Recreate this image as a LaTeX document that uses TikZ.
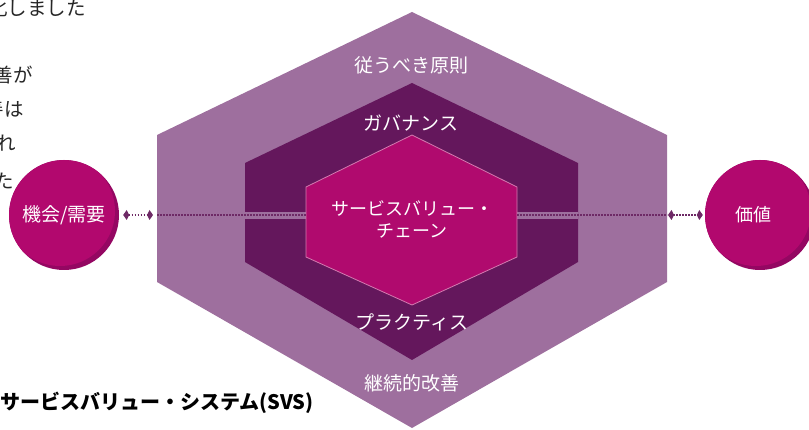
\documentclass[tikz,border=0pt]{standalone}
\usepackage{fontspec}
\setmainfont{Noto Sans CJK JP}
\usetikzlibrary{arrows.meta}
\definecolor{hexouter}{HTML}{9E6F9E}
\definecolor{hexmid}{HTML}{64175C}
\definecolor{hexcore}{HTML}{B00A6E}
\definecolor{corerim}{HTML}{D47AB0}
\definecolor{ballmain}{HTML}{B2086E}
\definecolor{balldark}{HTML}{940762}
\definecolor{linkcol}{HTML}{6E2A66}

\begin{document}
\begin{tikzpicture}[x=1pt,y=-1pt,
  lbl/.style={text=white,font=\fontsize{19}{21}\selectfont,align=center,inner sep=0pt},
  side/.style={anchor=east,text=black!85,font=\fontsize{19.5}{22}\selectfont,inner sep=0pt},
  ball/.style={circle,fill=balldark,minimum size=110pt,inner sep=0pt,
    path picture={\fill[ballmain] ([shift={(-4pt,4pt)}]path picture bounding box.center) circle (55pt);}},
  dots/.style={linkcol,line width=1.2pt,dash pattern=on 1.6pt off 1.4pt},
  tips/.style={dots,{Kite[length=6pt,width=10pt,inset=2.5pt]}-{Kite[length=6pt,width=10pt,inset=2.5pt]}}]
\useasboundingbox (0,0) rectangle (809,430);

% page text cut off at the left
\node[side] (t1) at (86,8) {化しました};
\node[side] (t2) at (33,75) {善が};
\node[side] (t3) at (24,109) {善は};
\node[side] (t4) at (16,143) {れ};
\node[side] (t5) at (14,181) {た};

\fill[hexouter] (412,12) -- (667,135) -- (667,282) -- (412,428) -- (157,282) -- (157,135) -- cycle;
\fill[hexmid] (412,83) -- (578,163) -- (578,262) -- (412,360) -- (245,262) -- (245,163) -- cycle;
\fill[hexouter] (245,212.5) rectangle (578,219);
\filldraw[fill=hexcore,draw=corerim,line width=0.8pt] (412,135) -- (517,187) -- (517,257) -- (412,305) -- (306,257) -- (306,187) -- cycle;

\node[lbl] (prin) at (411,65) {従うべき原則};
\node[lbl] (gov) at (411,123) {ガバナンス};
\node[lbl,font=\fontsize{18}{22}\selectfont] (svc) at (412,219) {サービスバリュー・\\チェーン};
\node[lbl] (prac) at (412,322) {プラクティス};
\node[lbl] (imp) at (412,383) {継続的改善};

\node[ball] (opp) at (64,215) {};
\node[lbl,font=\fontsize{19}{21}\selectfont] at (opp) {機会/需要};
\node[ball] (val) at (760,215) {};
\node[lbl,font=\fontsize{18}{21}\selectfont] at ([xshift=-7pt]val.center) {価値};

\coordinate (hl) at (157,215);
\coordinate (cl) at (306,215);
\coordinate (cr) at (517,215);
\coordinate (hr) at (667,215);
\draw[tips,shorten <=4pt,shorten >=4pt] (opp.east) -- (hl);
\draw[dots] (hl) -- (cl);
\draw[dots] (cr) -- (hr);
\draw[tips,shorten <=1pt,shorten >=2pt] (hr) -- (val.west);

\node[anchor=west,inner sep=0pt,font=\bfseries\fontsize{20}{24}\selectfont] (svs) at (0,403) {サービスバリュー・システム(SVS)};
\end{tikzpicture}
\end{document}
